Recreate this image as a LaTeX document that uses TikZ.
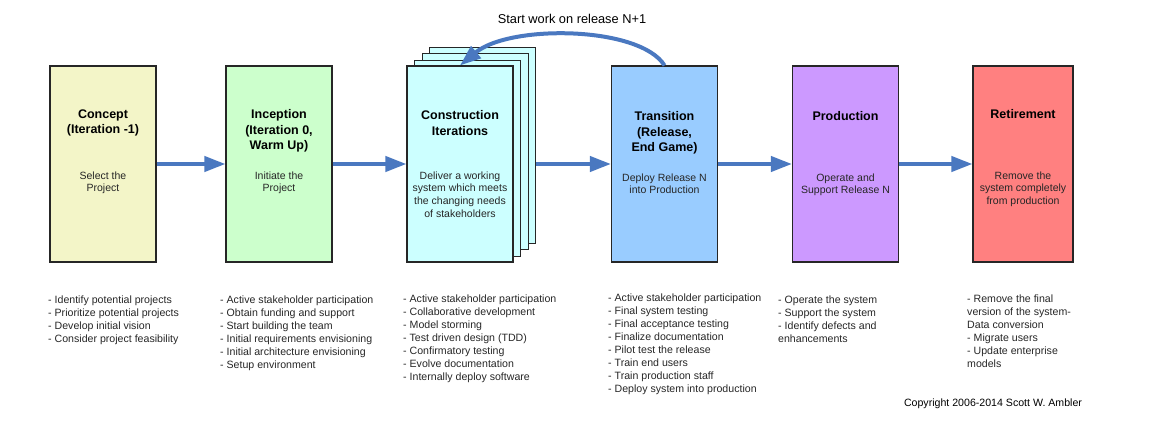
\documentclass[tikz,border=0pt]{standalone}
\usepackage{fontspec}
\setmainfont{Liberation Sans}
\usetikzlibrary{arrows.meta}

\definecolor{conceptfill}{RGB}{243,245,200}
\definecolor{inceptfill}{RGB}{204,255,204}
\definecolor{constrfill}{RGB}{204,255,255}
\definecolor{transfill}{RGB}{153,204,255}
\definecolor{prodfill}{RGB}{204,153,255}
\definecolor{retirefill}{RGB}{255,128,128}
\definecolor{flowblue}{RGB}{74,120,192}

\tikzset{
  phase/.style={draw=black!85, line width=1.1pt, minimum width=106pt, minimum height=196pt, inner sep=0pt},
  page/.style={phase, line width=0.8pt, fill=constrfill},
  phasetitle/.style={anchor=north, align=center, inner sep=0pt, font=\fontsize{12.5}{15.5}\selectfont\bfseries},
  phasebody/.style={anchor=north, align=center, inner sep=0pt, text=black!85, font=\fontsize{10.5}{12.8}\selectfont},
  tasklist/.style={anchor=north west, align=left, inner sep=0pt, text=black!85, font=\fontsize{10.6}{13}\selectfont},
  flow/.style={flowblue, line width=4pt, -{Triangle[length=21pt,width=15pt]}}
}

\begin{document}
\begin{tikzpicture}[x=1pt,y=-1pt]
\useasboundingbox (0,0) rectangle (1159,428);

% Phase boxes
\node[phase, fill=conceptfill] (concept) at (103,164) {};
\node[phase, fill=inceptfill] (incept) at (279,164) {};
\node[page] (page3) at (482.5,145) {};
\node[page] (page2) at (475,151.5) {};
\node[page] (page1) at (467.5,158) {};
\node[phase, fill=constrfill] (constr) at (460,164) {};
\node[phase, fill=transfill] (trans) at (664.5,164) {};
\node[phase, fill=prodfill] (prod) at (845.5,164) {};
\node[phase, fill=retirefill, minimum width=100pt] (retire) at (1023,164) {};

% Phase names
\node[phasetitle] (concepttitle) at (103,109.5) {Concept\\(Iteration -1)};
\node[phasetitle] (incepttitle) at (279,109.5) {Inception\\(Iteration 0,\\Warm Up)};
\node[phasetitle] (constrtitle) at (460,110.5) {Construction\\Iterations};
\node[phasetitle] (transtitle) at (664.5,111.5) {Transition\\(Release,\\End Game)};
\node[phasetitle] (prodtitle) at (845.5,111.5) {Production};
\node[phasetitle] (retiretitle) at (1023,109.5) {Retirement};

% Phase goals
\node[phasebody] (conceptbody) at (103,171.2) {Select the\\Project};
\node[phasebody] (inceptbody) at (279,171.2) {Initiate the\\Project};
\node[phasebody] (constrbody) at (460,171.2) {Deliver a working\\system which meets\\the changing needs\\of stakeholders};
\node[phasebody] (transbody) at (664.5,173.2) {Deploy Release N\\into Production};
\node[phasebody] (prodbody) at (845.5,173.2) {Operate and\\Support Release N};
\node[phasebody] (retirebody) at (1023,171.2) {Remove the\\system completely\\from production};

% Flow between phases
\draw[flow] (concept.east) -- (incept.west);
\draw[flow] (incept.east) -- (constr.west);
\draw[flow] (constr.east -| page3.east) -- (trans.west);
\draw[flow] (trans.east) -- (prod.west);
\draw[flow] (prod.east) -- (retire.west);

% Next release loop
\draw[flow] (trans.north) .. controls (640,26) and (510,24) .. (constr.north);
\node[font=\fontsize{12.8}{15}\selectfont] (nextrelease) at (572,19) {Start work on release N+1};

% Activities
\node[tasklist] (conceptlist) at (48,295.2) {- Identify potential projects\\- Prioritize potential projects\\- Develop initial vision\\- Consider project feasibility};
\node[tasklist] (inceptlist) at (220,295.2) {- Active stakeholder participation\\- Obtain funding and support\\- Start building the team\\- Initial requirements envisioning\\- Initial architecture envisioning\\- Setup environment};
\node[tasklist] (constrlist) at (403,294.2) {- Active stakeholder participation\\- Collaborative development\\- Model storming\\- Test driven design (TDD)\\- Confirmatory testing\\- Evolve documentation\\- Internally deploy software};
\node[tasklist] (translist) at (608,293.2) {- Active stakeholder participation\\- Final system testing\\- Final acceptance testing\\- Finalize documentation\\- Pilot test the release\\- Train end users\\- Train production staff\\- Deploy system into production};
\node[tasklist] (prodlist) at (778,295.2) {- Operate the system\\- Support the system\\- Identify defects and\\enhancements};
\node[tasklist] (retirelist) at (967,294.2) {- Remove the final\\version of the system-\\Data conversion\\- Migrate users\\- Update enterprise\\models};

\node[font=\fontsize{10.6}{12}\selectfont] (copyright) at (993,404) {Copyright 2006-2014 Scott W. Ambler};

\end{tikzpicture}
\end{document}
